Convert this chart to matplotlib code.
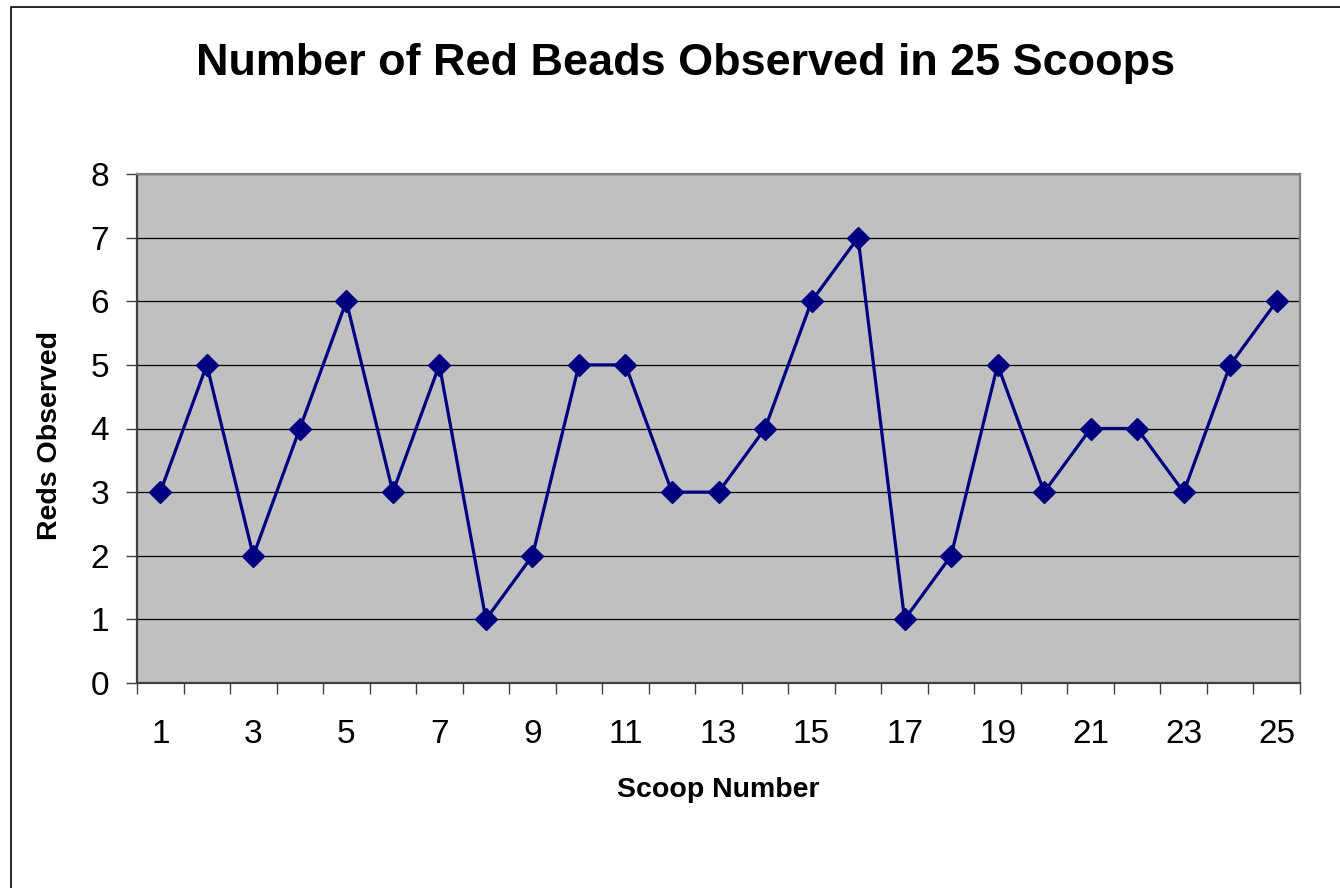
import matplotlib
matplotlib.use("Agg")
import matplotlib.pyplot as plt
from matplotlib.lines import Line2D
import numpy as np

plt.rcParams['font.family'] = ['Liberation Sans', 'DejaVu Sans']

# red beads counted in each scoop
scoops = list(range(1, 26))
reds = [3, 5, 2, 4, 6, 3, 5, 1, 2, 5, 5, 3, 3, 4, 6, 7, 1, 2, 5, 3, 4, 4, 3, 5, 6]
y_ticks = [0, 1, 2, 3, 4, 5, 6, 7, 8]
x_labels = [str(s) for s in scoops if s % 2 == 1]

W, H = 1340, 888
fig = plt.figure(figsize=(W / 100, H / 100), dpi=100)
fig.patch.set_facecolor('white')

# chart frame (left and top edges only)
fig.add_artist(Line2D([11 / W, 11 / W, 1.0], [0.0, 1 - 7 / H, 1 - 7 / H],
                      transform=fig.transFigure, color='black', lw=1.2))

ax = fig.add_axes([137 / W, 1 - 683 / H, (1300 - 137) / W, (683 - 174) / H])
ax.set_facecolor('#C0C0C0')

ax.plot(scoops, reds, color='#000080', lw=2.3, marker='D', markersize=11,
        markerfacecolor='#000080', markeredgecolor='#000080', zorder=3, clip_on=False)

ax.set_xlim(0.5, 25.5)
ax.set_ylim(0, 8)
ax.set_yticks(y_ticks)
ax.yaxis.grid(True, color='black', lw=0.9)
ax.set_axisbelow(True)

# boundary ticks between categories, labels on odd scoops
ax.set_xticks(np.arange(0.5, 26, 1))
ax.set_xticklabels([])
ax.set_xticks([s for s in scoops if s % 2 == 1], minor=True)
ax.set_xticklabels(x_labels, minor=True)
ax.tick_params(axis='x', which='major', direction='out', length=8, width=1, color='#404040')
ax.tick_params(axis='x', which='minor', length=0, pad=26, labelsize=24)
ax.tick_params(axis='y', direction='out', length=8, width=1, color='#404040', pad=12, labelsize=24)

for side in ['left', 'bottom']:
    ax.spines[side].set_color('#404040')
    ax.spines[side].set_linewidth(1.6)
for side in ['top', 'right']:
    ax.spines[side].set_color('#808080')
    ax.spines[side].set_linewidth(1.6)

fig.text(686 / W, 1 - 63 / H, 'Number of Red Beads Observed in 25 Scoops',
         ha='center', va='center', fontsize=32.4, fontweight='bold')
fig.text(718 / W, 1 - 790 / H, 'Scoop Number', ha='center', va='center',
         fontsize=20.5, fontweight='bold')
fig.text(50 / W, 1 - 435 / H, 'Reds Observed', ha='center', va='center',
         rotation=90, fontsize=20.5, fontweight='bold')

fig.savefig('out.png', dpi=100)
